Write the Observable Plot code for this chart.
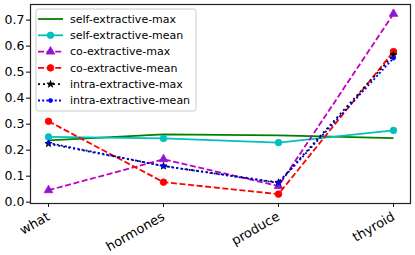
<!DOCTYPE html>
<html><head><meta charset="utf-8">
<script src="https://cdn.jsdelivr.net/npm/d3@7"></script>
<script src="https://cdn.jsdelivr.net/npm/@observablehq/plot@0.6"></script>
<style>body{margin:0;background:#fff}</style>
</head><body><div id="chart"></div>
<script>
const categories = ["what", "hormones", "produce", "thyroid"];
const seriesNames = ["self-extractive-max", "self-extractive-mean", "co-extractive-max", "co-extractive-mean", "intra-extractive-max", "intra-extractive-mean"];
const selfMax = [0.238, 0.261, 0.257, 0.246];
const selfMean = [0.251, 0.245, 0.229, 0.276];
const coMax = [0.046, 0.165, 0.062, 0.724];
const coMean = [0.311, 0.077, 0.031, 0.579];
const intraMax = [0.225, 0.139, 0.076, 0.566];
const intraMean = [0.228, 0.139, 0.074, 0.554];
const yTicks = [0.0, 0.1, 0.2, 0.3, 0.4, 0.5, 0.6, 0.7];

const values = [selfMax, selfMean, coMax, coMean, intraMax, intraMean];
const styles = [
  {color: "#008000", dash: null, symbol: null},
  {color: "#00bfbf", dash: null, symbol: "circle", r: 3.3, fill: "#00bfbf"},
  {color: "#bf00bf", dash: "6,2.6", symbol: "triangle", r: 3.2, fill: "#7a1fd6"},
  {color: "#ff0000", dash: "6,2.6", symbol: "circle", r: 3.3, fill: "#ff0000"},
  {color: "#000000", dash: "2,3", symbol: "star", r: 2.2, fill: "#000000"},
  {color: "#0000ff", dash: "2,2.2", symbol: "circle", r: 2.0, fill: "#0000ff"}
];

const marks = [];
seriesNames.forEach((name, i) => {
  const rows = categories.map((c, j) => ({cat: c, v: values[i][j], s: name}));
  const st = styles[i];
  marks.push(Plot.line(rows, {x: "cat", y: "v", stroke: st.color, strokeWidth: 1.8, strokeDasharray: st.dash, strokeLinecap: "butt"}));
  if (st.symbol) marks.push(Plot.dot(rows, {x: "cat", y: "v", symbol: st.symbol, r: st.r, fill: st.fill, stroke: st.color, strokeWidth: 0.8}));
});

const chart = Plot.plot({
  width: 415, height: 255,
  marginLeft: 30, marginRight: 5, marginTop: 4, marginBottom: 52,
  style: {fontFamily: "DejaVu Sans", fontSize: "12px", color: "black", background: "white"},
  x: {type: "point", domain: categories, padding: 0.15, label: null},
  y: {domain: [-0.005, 0.76], label: null},
  marks: [
    Plot.axisY({ticks: yTicks, tickFormat: d => d.toFixed(1), tickSize: 4, tickPadding: 2, fontSize: 12.5, label: null}),
    Plot.axisX({tickRotate: -30, tickSize: 4, tickPadding: 8, fontSize: 13, label: null}),
    ...marks,
    Plot.frame({stroke: "#222", strokeWidth: 1.2})
  ]
});
document.getElementById("chart").appendChild(chart);

// legend
const svg = d3.select(chart);
const lg = svg.append("g").attr("font-family", "DejaVu Sans").attr("font-size", 11).attr("text-anchor", "start");
lg.append("rect").attr("x", 36).attr("y", 9).attr("width", 160).attr("height", 102).attr("rx", 2.5)
  .attr("fill", "white").attr("fill-opacity", 0.8).attr("stroke", "#ccc");
seriesNames.forEach((name, i) => {
  const st = styles[i];
  const y = 19 + i * 16.3;
  lg.append("line").attr("x1", 38).attr("x2", 63).attr("y1", y).attr("y2", y)
    .attr("stroke", st.color).attr("stroke-width", 1.8).attr("stroke-dasharray", st.dash);
  if (st.symbol) {
    lg.append("path").attr("transform", `translate(50.5,${y})`)
      .attr("d", d3.symbol(st.symbol === "circle" ? d3.symbolCircle : st.symbol === "triangle" ? d3.symbolTriangle : d3.symbolStar, Math.PI * st.r * st.r)())
      .attr("fill", st.fill).attr("stroke", st.color).attr("stroke-width", 0.8);
  }
  lg.append("text").attr("x", 70).attr("y", y).attr("dy", "0.35em").attr("fill", "black").text(name);
});
</script>
</body></html>
